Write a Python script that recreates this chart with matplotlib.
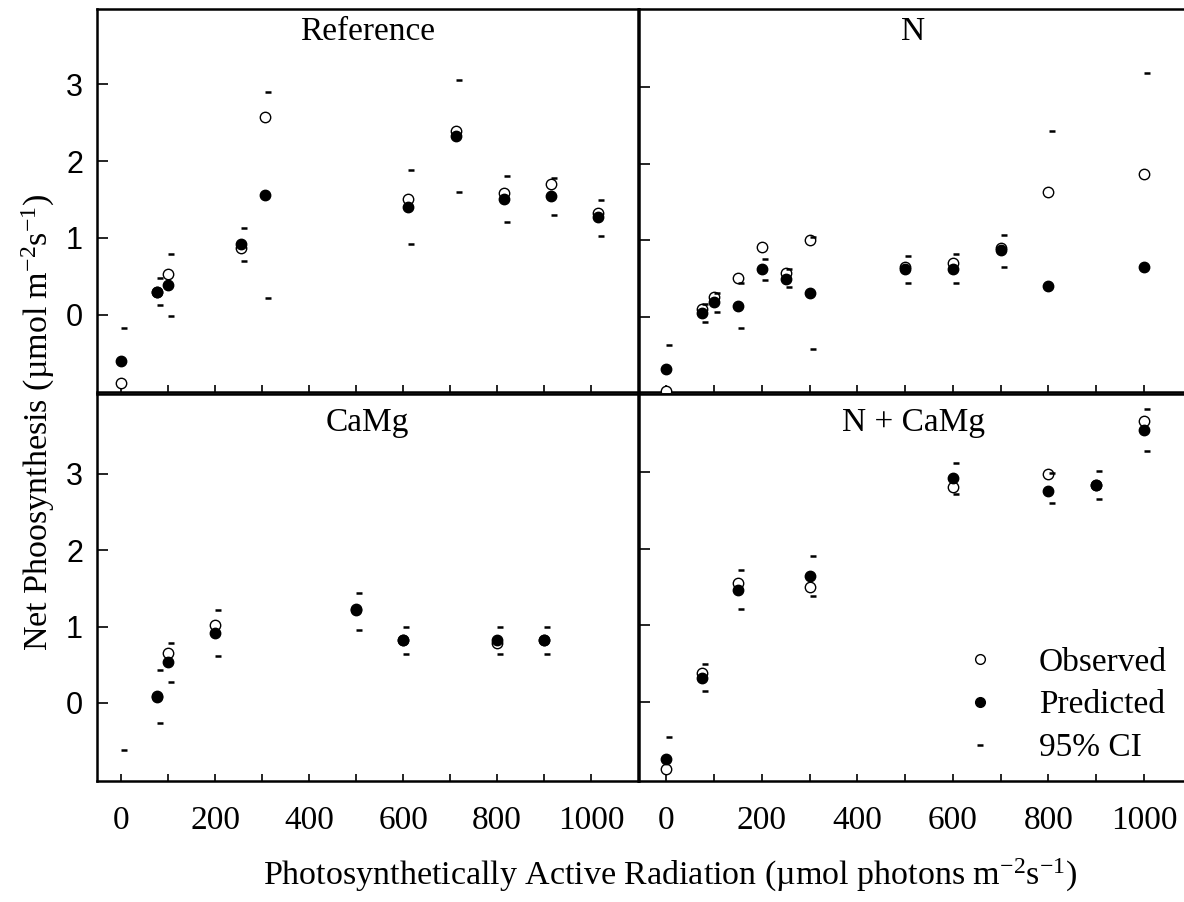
import numpy as np
import matplotlib
matplotlib.use('Agg')
import matplotlib.pyplot as plt
from matplotlib.lines import Line2D
from matplotlib.transforms import offset_copy

plt.rcParams['font.family'] = 'Liberation Serif'
plt.rcParams['mathtext.fontset'] = 'custom'
plt.rcParams['mathtext.rm'] = 'Liberation Serif'
plt.rcParams['mathtext.it'] = 'Liberation Serif:italic'

nan = np.nan

# Reference
par_ref = [0, 75, 100, 255, 305, 610, 712, 815, 915, 1015]
obs_ref = [-0.89, 0.30, 0.53, 0.87, 2.58, 1.51, 2.39, 1.59, 1.70, 1.32]
pred_ref = [-0.60, 0.29, 0.39, 0.92, 1.56, 1.40, 2.33, 1.51, 1.54, 1.27]
hi_ref = [-0.17, 0.48, 0.79, 1.13, 2.90, 1.89, 3.05, 1.81, 1.78, 1.49]
lo_ref = [nan, 0.12, -0.02, 0.70, 0.22, 0.92, 1.60, 1.21, 1.30, 1.03]

# N
par_n = [0, 75, 100, 150, 200, 250, 300, 500, 600, 700, 800, 1000]
obs_n = [-0.96, 0.11, 0.26, 0.51, 0.92, 0.57, 1.01, 0.66, 0.71, 0.90, 1.63, 1.87]
pred_n = [-0.68, 0.06, 0.20, 0.15, 0.63, 0.50, 0.31, 0.63, 0.63, 0.87, 0.40, 0.66]
hi_n = [-0.36, 0.17, 0.31, 0.44, 0.76, 0.63, 1.04, 0.80, 0.82, 1.07, 2.43, 3.19]
lo_n = [nan, -0.06, 0.07, -0.14, 0.49, 0.39, -0.42, 0.45, 0.45, 0.66, nan, nan]

# CaMg
par_c = [0, 75, 100, 200, 500, 600, 800, 900]
obs_c = [nan, 0.09, 0.65, 1.02, 1.23, 0.82, 0.79, 0.82]
pred_c = [nan, 0.08, 0.54, 0.92, 1.21, 0.82, 0.82, 0.82]
hi_c = [-0.61, 0.43, 0.79, 1.21, 1.44, 0.99, 0.99, 0.99]
lo_c = [nan, -0.26, 0.28, 0.62, 0.95, 0.64, 0.64, 0.64]

# N + CaMg
par_nc = [0, 75, 150, 300, 600, 800, 900, 1000]
obs_nc = [-0.87, 0.38, 1.56, 1.50, 2.80, 2.97, 2.83, 3.67]
pred_nc = [-0.74, 0.32, 1.46, 1.65, 2.93, 2.76, 2.83, 3.55]
hi_nc = [-0.46, 0.50, 1.72, 1.91, 3.12, 2.99, 3.01, 3.83]
lo_nc = [nan, 0.14, 1.21, 1.38, 2.72, 2.60, 2.65, 3.27]

titles = ['Reference', 'N', 'CaMg', 'N + CaMg']
panels = [(par_ref, obs_ref, pred_ref, hi_ref, lo_ref),
          (par_n, obs_n, pred_n, hi_n, lo_n),
          (par_c, obs_c, pred_c, hi_c, lo_c),
          (par_nc, obs_nc, pred_nc, hi_nc, lo_nc)]

fig = plt.figure(figsize=(11.84, 9.02), dpi=100)
W, H = 1184, 902

def box(l, t, r, b):
    return [l / W, 1 - b / H, (r - l) / W, (b - t) / H]

axes = [fig.add_axes(box(97, 9, 638, 391.5)),
        fig.add_axes(box(639, 9, 1187, 391.5)),
        fig.add_axes(box(97, 394, 638, 781)),
        fig.add_axes(box(639, 394, 1187, 781))]
xlims = [(-52, 1100), (-57, 1090), (-52, 1100), (-57, 1090)]
ylims = [(-1.0, 3.98), (-0.97, 4.02), (-1.02, 4.04), (-1.03, 4.02)]

for i, ax in enumerate(axes):
    x, obs, pred, hi, lo = panels[i]
    ax.plot(x, obs, 'o', mfc='white', mec='black', ms=7.5, mew=1.0, ls='none', zorder=3)
    ax.plot(x, pred, 'o', color='black', ms=7.5, ls='none', zorder=4)
    # CI dashes sit a little to the right of the points
    shift = offset_copy(ax.transData, fig=fig, x=2.2, y=0, units='points')
    ax.plot(x, hi, '_', color='black', ms=4, mew=1.8, ls='none', transform=shift, zorder=5)
    ax.plot(x, lo, '_', color='black', ms=4, mew=1.8, ls='none', transform=shift, zorder=5)

    ax.set_xlim(xlims[i])
    ax.set_ylim(ylims[i])
    ax.text(0.5, 0.918 if i < 2 else 0.905, titles[i], transform=ax.transAxes,
            ha='center', va='baseline', fontsize=24)

    ax.set_xticks(np.arange(0, 1001, 200))
    ax.set_xticks(np.arange(100, 1000, 200), minor=True)
    ax.set_yticks([0, 1, 2, 3])
    ax.tick_params(axis='x', which='both', direction='in', length=5, width=1.2,
                   labelsize=24, pad=17.5, labelbottom=(i >= 2))
    ax.tick_params(axis='y', direction='in', length=8, width=1.2,
                   labelsize=22, pad=10, labelleft=(i % 2 == 0))
    for lab in ax.get_yticklabels():
        lab.set_fontfamily('Liberation Sans')
    for sp in ax.spines.values():
        sp.set_linewidth(1.8)

handles = [Line2D([], [], marker='o', mfc='white', mec='black', ms=7, mew=1.0, ls='none'),
           Line2D([], [], marker='o', color='black', ms=7, ls='none'),
           Line2D([], [], marker='_', color='black', ms=4, mew=1.8, ls='none')]
axes[3].legend(handles, ['Observed', 'Predicted', '95% CI'], loc='center left',
               bbox_to_anchor=(0.592, 0.196), frameon=False, fontsize=24,
               handlelength=1.0, handletextpad=1.27, borderpad=0, borderaxespad=0,
               labelspacing=0.37)

fig.text(670 / W, 1 - 885 / H,
         'Photosynthetically Active Radiation (\u00b5mol photons m$^{-2}$s$^{-1}$)',
         ha='center', va='baseline', fontsize=24.5)
fig.text(38 / W, 1 - 422 / H, 'Net Phoosynthesis (\u00b5mol m$^{-2}$s$^{-1}$)',
         rotation=90, ha='center', va='center', fontsize=24.5)

fig.savefig('out.png', dpi=100)
